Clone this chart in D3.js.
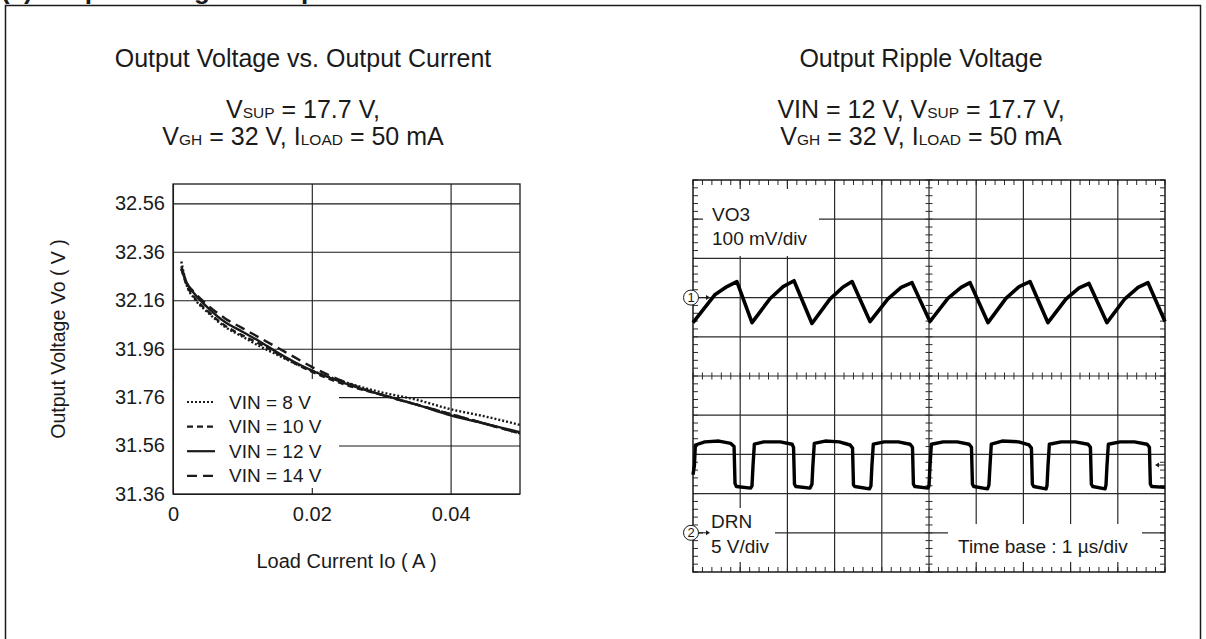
<!DOCTYPE html>
<html>
<head>
<meta charset="utf-8">
<script src="https://cdn.jsdelivr.net/npm/d3@7"></script>
<style>
  body { margin: 0; background: #fff; }
  text { font-family: "Liberation Sans", Arial, sans-serif; fill: #1a1a1a; }
</style>
</head>
<body>
<div id="graph"></div>
<script>
    // left chart: output voltage vs load current
    const load_current = [0.0012, 0.002, 0.003, 0.005, 0.0075, 0.01, 0.0125, 0.015, 0.0175, 0.02, 0.025, 0.03, 0.035, 0.04, 0.045, 0.05];
    const vo_vin8  = [32.32, 32.22, 32.17, 32.11, 32.05, 32.01, 31.97, 31.935, 31.90, 31.87, 31.82, 31.78, 31.75, 31.71, 31.68, 31.645];
    const vo_vin10 = [32.29, 32.22, 32.175, 32.115, 32.055, 32.015, 31.98, 31.94, 31.90, 31.865, 31.81, 31.77, 31.73, 31.69, 31.65, 31.61];
    const vo_vin12 = [32.30, 32.23, 32.19, 32.13, 32.07, 32.03, 31.99, 31.945, 31.905, 31.87, 31.815, 31.77, 31.73, 31.685, 31.65, 31.615];
    const vo_vin14 = [32.29, 32.23, 32.195, 32.14, 32.085, 32.045, 32.005, 31.965, 31.925, 31.885, 31.82, 31.77, 31.73, 31.69, 31.65, 31.61];
    const legend_labels = ["VIN = 8 V", "VIN = 10 V", "VIN = 12 V", "VIN = 14 V"];
    const y_ticks = [31.36, 31.56, 31.76, 31.96, 32.16, 32.36, 32.56];
    const x_ticks = [0, 0.02, 0.04];

    // right chart: scope traces (time in us)
    const vo3_time = [0.00, 0.47, 0.72, 0.93, 1.25, 1.63, 1.91, 2.14, 2.52, 2.90, 3.18, 3.37, 3.75, 4.13, 4.41, 4.64,
                      5.02, 5.40, 5.68, 5.87, 6.25, 6.63, 6.91, 7.14, 7.52, 7.90, 8.18, 8.39, 8.77, 9.15, 9.43, 9.64, 10.00];
    const vo3_mv   = [-64, 8, 28, 41, -64, -3, 28, 43, -66, -4, 27, 41, -61, -3, 26, 38,
                      -61, -2, 26, 38, -64, -2, 28, 41, -64, -4, 25, 36, -64, -3, 26, 38, -61];
    const drn_time = [0.00, 0.03, 0.05, 0.25, 0.55, 0.80, 0.87, 0.89, 0.92, 1.22, 1.25, 1.27, 1.30, 1.50, 1.85, 2.10, 2.13, 2.15, 2.18,
                      2.48, 2.52, 2.54, 2.57, 2.80, 3.10, 3.33, 3.38, 3.40, 3.43, 3.74, 3.77, 3.79, 3.82, 4.05, 4.35, 4.60, 4.65, 4.67, 4.70,
                      4.98, 5.00, 5.02, 5.05, 5.30, 5.60, 5.85, 5.90, 5.92, 5.95, 6.24, 6.27, 6.29, 6.32, 6.55, 6.90, 7.12, 7.17, 7.19, 7.22,
                      7.48, 7.50, 7.52, 7.55, 7.80, 8.10, 8.37, 8.42, 8.44, 8.47, 8.73, 8.75, 8.77, 8.80, 9.05, 9.35, 9.62, 9.67, 9.69, 9.72, 10.00];
    const drn_v    = [7.4, 8.6, 11.2, 11.6, 11.7, 11.4, 11.0, 6.3, 5.9, 5.7, 6.0, 8.4, 11.3, 11.6, 11.6, 11.3, 10.9, 6.2, 5.9,
                      5.7, 6.2, 8.6, 11.4, 11.7, 11.6, 11.2, 10.8, 6.1, 5.9, 5.6, 6.0, 8.5, 11.3, 11.6, 11.6, 11.3, 10.9, 6.2, 5.9,
                      5.7, 6.0, 8.4, 11.3, 11.6, 11.6, 11.3, 10.9, 6.2, 5.9, 5.6, 6.1, 8.3, 11.3, 11.7, 11.6, 11.2, 10.8, 6.2, 5.9,
                      5.6, 6.0, 8.4, 11.3, 11.6, 11.6, 11.3, 10.9, 6.2, 5.9, 5.6, 6.1, 8.5, 11.3, 11.6, 11.6, 11.3, 10.9, 6.2, 5.9, 5.8];

    const ink = "#1a1a1a";
    const width = 1206, height = 639;

    let svg = d3.select("#graph").append("svg")
      .attr("width", width)
      .attr("height", height);

    // page frame + heading that sits mostly above the window
    svg.append("text")
      .attr("x", 1).attr("y", -1)
      .style("font-size", "26px").style("font-weight", "bold")
      .text("(c) Output Voltage Example");
    svg.append("rect")
      .attr("x", 5.5).attr("y", 5.5)
      .attr("width", 1195).attr("height", 700)
      .attr("fill", "none").attr("stroke", ink).attr("stroke-width", 1.5);

    function sub_line(x, y, parts) {
      let t = svg.append("text")
        .attr("x", x).attr("y", y)
        .style("font-size", "25px")
        .style("text-anchor", "middle");
      parts.forEach(p => {
        t.append("tspan").style("font-size", p[1] ? "15.5px" : "25px").text(p[0]);
      });
    }

    // ---------- left chart ----------
    const margin = ({top: 184, right: 520, bottom: 494, left: 173});
    let x = d3.scaleLinear().domain([0, 0.05]).range([margin.left, margin.right]);
    let y = d3.scaleLinear().domain([31.36, 32.64]).range([margin.bottom, margin.top]);

    svg.append("text").attr("x", 303).attr("y", 67)
      .style("font-size", "25px").style("text-anchor", "middle")
      .text("Output Voltage vs. Output Current");
    sub_line(303, 118, [["V"], ["SUP", 1], [" = 17.7 V,"]]);
    sub_line(303, 145, [["V"], ["GH", 1], [" = 32 V, I"], ["LOAD", 1], [" = 50 mA"]]);

    let y_axis = d3.axisLeft(y)
      .tickValues(y_ticks)
      .tickSize(-(margin.right - margin.left))
      .tickPadding(8)
      .tickFormat(d3.format(".2f"));
    let gy = svg.append("g")
      .attr("transform", `translate(${margin.left},0)`)
      .call(y_axis);
    gy.select(".domain").remove();
    gy.selectAll("line").attr("stroke", ink).attr("stroke-width", 1.1);
    gy.selectAll("text").style("font-size", "20px").attr("fill", ink);

    let x_axis = d3.axisBottom(x)
      .tickValues(x_ticks)
      .tickSize(-(margin.bottom - margin.top))
      .tickPadding(13)
      .tickFormat(d => d === 0 ? "0" : d3.format(".2f")(d));
    let gx = svg.append("g")
      .attr("transform", `translate(0,${margin.bottom})`)
      .call(x_axis);
    gx.select(".domain").remove();
    gx.selectAll("line").attr("stroke", ink).attr("stroke-width", 1.1);
    gx.selectAll("text").style("font-size", "20px").attr("fill", ink);

    // legend background hides grid under it
    svg.append("rect")
      .attr("x", margin.left + 1).attr("y", 379)
      .attr("width", 165).attr("height", 109)
      .attr("fill", "#fff");

    svg.append("rect")
      .attr("x", margin.left).attr("y", margin.top)
      .attr("width", margin.right - margin.left).attr("height", margin.bottom - margin.top)
      .attr("fill", "none").attr("stroke", ink).attr("stroke-width", 1.3);

    const series = [vo_vin8, vo_vin10, vo_vin12, vo_vin14];
    const dashes = ["2,2", "6,4", null, "10,6"];

    svg.append("clipPath").attr("id", "clip_left")
      .append("rect")
      .attr("x", margin.left).attr("y", margin.top)
      .attr("width", margin.right - margin.left).attr("height", margin.bottom - margin.top);

    let line = d3.line()
      .x((d, i) => x(load_current[i]))
      .y(d => y(d))
      .curve(d3.curveMonotoneX);

    svg.append("g").attr("clip-path", "url(#clip_left)")
      .selectAll("path")
      .data(series)
      .enter()
      .append("path")
      .attr("d", d => line(d))
      .attr("fill", "none")
      .attr("stroke", ink)
      .attr("stroke-width", 2.4)
      .attr("stroke-dasharray", (d, i) => dashes[i]);

    let legend = svg.append("g");
    legend_labels.forEach((lab, i) => {
      const ly = 402 + i * 24.6;
      legend.append("line")
        .attr("x1", 187).attr("x2", 215).attr("y1", ly).attr("y2", ly)
        .attr("stroke", ink).attr("stroke-width", 2.2)
        .attr("stroke-dasharray", dashes[i]);
      legend.append("text")
        .attr("x", 229).attr("y", ly).attr("dy", "0.35em")
        .style("font-size", "19px")
        .text(lab);
    });

    svg.append("text")
      .attr("transform", `translate(65,${(margin.top + margin.bottom) / 2}) rotate(-90)`)
      .style("font-size", "19.5px").style("text-anchor", "middle")
      .text("Output Voltage Vo ( V )");
    svg.append("text")
      .attr("x", (margin.left + margin.right) / 2).attr("y", 568)
      .style("font-size", "20px").style("text-anchor", "middle")
      .text("Load Current Io ( A )");

    // ---------- right chart (scope) ----------
    const scope = ({left: 693, right: 1165, top: 180, bottom: 572});
    let sx = d3.scaleLinear().domain([0, 10]).range([scope.left, scope.right]);
    let sy = d3.scaleLinear().domain([-5, 5]).range([scope.bottom, scope.top]);
    const ch1_offset = 2, ch1_scale = 100;   // div, mV/div
    const ch2_offset = -4, ch2_scale = 5;    // div, V/div

    svg.append("text").attr("x", 921).attr("y", 67)
      .style("font-size", "25px").style("text-anchor", "middle")
      .text("Output Ripple Voltage");
    sub_line(921, 118, [["VIN = 12 V, V"], ["SUP", 1], [" = 17.7 V,"]]);
    sub_line(921, 145, [["V"], ["GH", 1], [" = 32 V, I"], ["LOAD", 1], [" = 50 mA"]]);

    let grid = svg.append("g").attr("stroke", "#2a2a2a").attr("stroke-width", 1.2);
    d3.range(1, 10).forEach(k => {
      grid.append("line").attr("x1", sx(k)).attr("x2", sx(k)).attr("y1", scope.top).attr("y2", scope.bottom);
      grid.append("line").attr("y1", sy(k - 5)).attr("y2", sy(k - 5)).attr("x1", scope.left).attr("x2", scope.right);
    });

    // label boxes cover the grid
    const boxes = [[703, 189, 116, 67], [703, 508, 72, 54], [948, 524, 194, 38]];
    boxes.forEach(b => {
      svg.append("rect").attr("x", b[0]).attr("y", b[1]).attr("width", b[2]).attr("height", b[3]).attr("fill", "#fff");
    });

    let ticks = svg.append("g").attr("stroke", "#2a2a2a").attr("stroke-width", 1);
    d3.range(0, 10.001, 0.2).forEach(v => {
      const px = sx(v), py = sy(v - 5);
      ticks.append("line").attr("x1", px).attr("x2", px).attr("y1", scope.top).attr("y2", scope.top + 5);
      ticks.append("line").attr("x1", px).attr("x2", px).attr("y1", scope.bottom).attr("y2", scope.bottom - 5);
      ticks.append("line").attr("x1", px).attr("x2", px).attr("y1", sy(0) - 3.5).attr("y2", sy(0) + 3.5);
      ticks.append("line").attr("y1", py).attr("y2", py).attr("x1", scope.left).attr("x2", scope.left + 5);
      ticks.append("line").attr("y1", py).attr("y2", py).attr("x1", scope.right).attr("x2", scope.right - 5);
      ticks.append("line").attr("y1", py).attr("y2", py).attr("x1", sx(5) - 3.5).attr("x2", sx(5) + 3.5);
    });

    svg.append("rect")
      .attr("x", scope.left).attr("y", scope.top)
      .attr("width", scope.right - scope.left).attr("height", scope.bottom - scope.top)
      .attr("fill", "none").attr("stroke", ink).attr("stroke-width", 1.5);

    let vo3_line = d3.line()
      .x((d, i) => sx(vo3_time[i]))
      .y(d => sy(ch1_offset + d / ch1_scale));
    let drn_line = d3.line()
      .x((d, i) => sx(drn_time[i]))
      .y(d => sy(ch2_offset + d / ch2_scale));

    svg.append("path")
      .attr("d", vo3_line(vo3_mv))
      .attr("fill", "none").attr("stroke", "#000")
      .attr("stroke-width", 3.6).attr("stroke-linejoin", "round");
    svg.append("path")
      .attr("d", drn_line(drn_v))
      .attr("fill", "none").attr("stroke", "#000")
      .attr("stroke-width", 3.4).attr("stroke-linejoin", "round");

    // channel markers
    function marker(label, yv) {
      const cy = sy(yv);
      svg.append("line")
        .attr("x1", 698).attr("x2", 706).attr("y1", cy).attr("y2", cy)
        .attr("stroke", ink).attr("stroke-width", 1);
      svg.append("path")
        .attr("d", `M706,${cy - 2.5}L710,${cy}L706,${cy + 2.5}Z`)
        .attr("fill", ink);
      svg.append("circle")
        .attr("cx", 691).attr("cy", cy).attr("r", 7.5)
        .attr("fill", "#fff").attr("stroke", ink).attr("stroke-width", 1);
      svg.append("text")
        .attr("x", 691).attr("y", cy).attr("dy", "0.36em")
        .style("font-size", "13px").style("text-anchor", "middle")
        .text(label);
    }
    marker("1", ch1_offset);
    marker("2", ch2_offset);

    // trigger level arrow on right edge
    const trig_y = 465;
    svg.append("line")
      .attr("x1", 1158).attr("x2", 1165).attr("y1", trig_y).attr("y2", trig_y)
      .attr("stroke", ink).attr("stroke-width", 1);
    svg.append("path")
      .attr("d", `M1159,${trig_y - 2.5}L1155,${trig_y}L1159,${trig_y + 2.5}Z`)
      .attr("fill", ink);

    const scope_texts = [["VO3", 712, 221], ["100 mV/div", 712, 245], ["DRN", 711, 528], ["5 V/div", 711, 553], ["Time base : 1 \u00b5s/div", 958, 553]];
    scope_texts.forEach(t => {
      svg.append("text").attr("x", t[1]).attr("y", t[2])
        .style("font-size", "19px")
        .text(t[0]);
    });
</script>
</body>
</html>
